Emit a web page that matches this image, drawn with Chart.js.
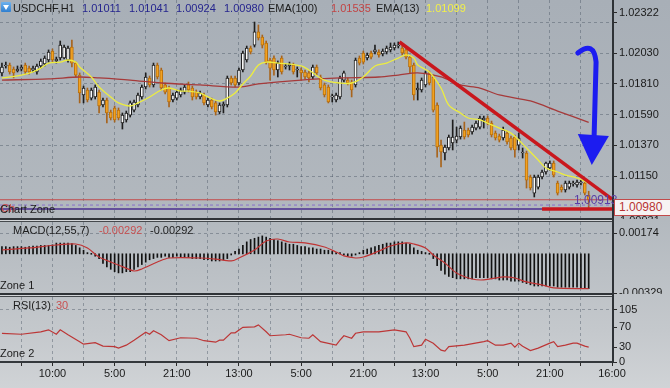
<!DOCTYPE html>
<html><head><meta charset="utf-8">
<script src="https://cdn.jsdelivr.net/npm/chart.js@4.4.1/dist/chart.umd.min.js"></script>
<style>
html,body{margin:0;padding:0;}
body{width:670px;height:388px;position:relative;overflow:hidden;background:linear-gradient(to bottom,#a8afb7 0%,#b2b8be 55%,#c4c8cc 85%,#d0d3d6 100%);font-family:"Liberation Sans",Arial,sans-serif;}
canvas{position:absolute;left:0;}
.t{position:absolute;font-size:11px;line-height:12px;white-space:nowrap;color:#1c1c1c;}
.ln{position:absolute;}
</style></head><body>
<canvas id="cMain" width="670" height="219" style="top:0px"></canvas>
<canvas id="cMacd" width="670" height="72" style="top:222px"></canvas>
<canvas id="cRsi" width="670" height="91" style="top:297px"></canvas>

<div class="ln" style="left:0;top:218px;width:614px;height:4px;background:linear-gradient(#2f3337 0 2px,#d2d5d8 2px 3px,#45494d 3px 4px)"></div>
<div class="ln" style="left:0;top:293px;width:614px;height:4px;background:linear-gradient(#2f3337 0 2px,#d2d5d8 2px 3px,#45494d 3px 4px)"></div>
<div class="ln" style="left:0;top:361px;width:614px;height:2px;background:#34383c"></div>
<div class="ln" style="left:612px;top:0;width:2px;height:363px;background:#2e3236"></div>

<div class="ln" style="left:1px;top:2px;width:10px;height:10px;background:linear-gradient(#6fb2ee,#2f7fd0);border-radius:1px"></div>
<div class="ln" style="left:3px;top:5px;width:0;height:0;border-left:3px solid transparent;border-right:3px solid transparent;border-top:5px solid #fff"></div>
<div class="t" style="left:13px;top:2px">USDCHF,H1</div>
<div class="t" style="left:82px;top:2px;color:#25258e">1.01011</div>
<div class="t" style="left:129px;top:2px;color:#25258e">1.01041</div>
<div class="t" style="left:176px;top:2px;color:#25258e">1.00924</div>
<div class="t" style="left:224px;top:2px;color:#25258e">1.00980</div>
<div class="t" style="left:268px;top:2px">EMA(100)</div>
<div class="t" style="left:331px;top:2px;color:#c24444">1.01535</div>
<div class="t" style="left:376px;top:2px">EMA(13)</div>
<div class="t" style="left:426px;top:2px;color:#f2f048">1.01099</div>

<div class="t" style="left:1px;top:202px;color:#c44">Ch</div>
<div class="t" style="left:0px;top:203px">Chart Zone</div>
<div class="t" style="left:574px;top:194px;font-size:12px;color:#5b3ea6">1.00913</div>
<div class="ln" style="left:614px;top:199px;width:56px;height:17px;background:#f7f3f3;border:1px solid #c24a4a;border-right:none;box-sizing:border-box"></div>
<div class="t" style="left:619px;top:201px;font-size:12px;line-height:13px;color:#b83434">1.00980</div>
<div class="ln" style="left:618px;top:216px;width:50px;height:3px;overflow:hidden"><div class="t" style="left:2px;top:-2px">1.00931</div></div>

<div class="t" style="left:13px;top:224px">MACD(12,55,7)</div>
<div class="t" style="left:99px;top:224px;color:#c85050">-0.00292</div>
<div class="t" style="left:150px;top:224px">-0.00292</div>
<div class="t" style="left:0px;top:279px">Zone 1</div>
<div class="t" style="left:13px;top:299px">RSI(13)</div>
<div class="t" style="left:56px;top:299px;color:#c85050">30</div>
<div class="t" style="left:0px;top:347px">Zone 2</div>

<script>
// ---------------- DATA ----------------
const opens = [1.01889,1.01939,1.01946,1.01917,1.01903,1.01917,1.01946,1.01924,1.01910,1.01896,
1.01939,1.01953,1.01982,1.02046,1.01975,1.01996,1.01996,1.01982,1.02075,1.01960,
1.01874,1.01731,1.01767,1.01709,1.01717,1.01752,1.01659,1.01695,1.01609,1.01638,
1.01623,1.01530,1.01552,1.01587,1.01623,1.01659,1.01717,1.01788,1.01853,1.01803,
1.01946,1.01910,1.01803,1.01781,1.01695,1.01709,1.01731,1.01752,1.01803,1.01781,
1.01752,1.01717,1.01731,1.01659,1.01695,1.01674,1.01609,1.01652,1.01659,1.01853,
1.01853,1.01817,1.01910,1.01982,1.02068,1.02089,1.02183,1.02147,1.02104,1.01982,
1.01996,1.01910,1.01996,1.01932,1.01939,1.01946,1.01910,1.01910,1.01896,1.01889,
1.01860,1.01932,1.01860,1.01803,1.01788,1.01717,1.01695,1.01717,1.01838,1.01838,
1.01824,1.01803,1.01996,1.02032,1.01996,1.02032,1.02039,1.02039,1.02025,1.02039,
1.02054,1.02068,1.02082,1.02068,1.02054,1.02003,1.01946,1.01767,1.01767,1.01803,
1.01889,1.01860,1.01659,1.01372,1.01315,1.01351,1.01387,1.01408,1.01430,1.01480,
1.01480,1.01466,1.01494,1.01501,1.01552,1.01566,1.01530,1.01458,1.01437,1.01423,
1.01458,1.01423,1.01430,1.01372,1.01315,1.01315,1.01143,1.01028,1.01071,1.01143,
1.01179,1.01208,1.01243,1.01100,1.01071,1.01050,1.01071,1.01093,1.01086,1.01100,
1.01100,1.01011];
const highs = [1.01960,1.01967,1.01960,1.01932,1.01939,1.01946,1.01960,1.01939,1.01939,1.01953,
1.01989,1.02011,1.02054,1.02061,1.02003,1.02118,1.02089,1.02082,1.02125,1.01967,
1.01889,1.01795,1.01781,1.01781,1.01803,1.01767,1.01709,1.01709,1.01623,1.01652,
1.01638,1.01602,1.01616,1.01688,1.01695,1.01745,1.01803,1.01889,1.01867,1.01960,
1.01960,1.01924,1.01817,1.01795,1.01745,1.01767,1.01781,1.01803,1.01824,1.01795,
1.01767,1.01759,1.01745,1.01709,1.01709,1.01688,1.01674,1.01681,1.01867,1.01867,
1.01867,1.01924,1.02046,1.02082,1.02082,1.02254,1.02233,1.02161,1.02118,1.01996,
1.02011,1.01975,1.02011,1.01953,1.01967,1.01960,1.01932,1.01924,1.01910,1.01903,
1.01946,1.01946,1.01874,1.01817,1.01803,1.01738,1.01745,1.01867,1.01903,1.01853,
1.01838,1.01996,1.02011,1.02046,1.02032,1.02046,1.02089,1.02054,1.02061,1.02082,
1.02104,1.02104,1.02111,1.02082,1.02068,1.02018,1.01960,1.01817,1.01853,1.01903,
1.01903,1.01874,1.01674,1.01408,1.01372,1.01444,1.01552,1.01501,1.01509,1.01537,
1.01494,1.01516,1.01544,1.01580,1.01580,1.01580,1.01544,1.01473,1.01451,1.01501,
1.01473,1.01437,1.01444,1.01458,1.01351,1.01329,1.01157,1.01157,1.01157,1.01193,
1.01250,1.01258,1.01258,1.01114,1.01086,1.01114,1.01114,1.01114,1.01121,1.01121,
1.01114,1.01041];
const lows = [1.01867,1.01924,1.01881,1.01853,1.01896,1.01903,1.01881,1.01881,1.01896,1.01881,
1.01924,1.01939,1.01967,1.01967,1.01960,1.01982,1.01989,1.01967,1.01932,1.01860,
1.01674,1.01674,1.01681,1.01695,1.01702,1.01602,1.01645,1.01530,1.01552,1.01537,
1.01552,1.01487,1.01537,1.01573,1.01609,1.01645,1.01702,1.01774,1.01788,1.01788,
1.01846,1.01767,1.01738,1.01645,1.01681,1.01695,1.01717,1.01738,1.01752,1.01695,
1.01702,1.01702,1.01659,1.01645,1.01631,1.01587,1.01595,1.01602,1.01645,1.01803,
1.01788,1.01803,1.01896,1.01967,1.02025,1.02075,1.02125,1.02068,1.01953,1.01838,
1.01874,1.01860,1.01881,1.01917,1.01910,1.01881,1.01860,1.01838,1.01846,1.01824,
1.01846,1.01874,1.01767,1.01717,1.01674,1.01681,1.01681,1.01702,1.01824,1.01803,
1.01717,1.01788,1.01946,1.01953,1.01982,1.01989,1.02025,1.02003,1.02011,1.02025,
1.02039,1.02054,1.02068,1.02018,1.01989,1.01889,1.01695,1.01695,1.01752,1.01788,
1.01803,1.01609,1.01286,1.01215,1.01265,1.01337,1.01337,1.01387,1.01415,1.01415,
1.01430,1.01451,1.01480,1.01487,1.01494,1.01516,1.01430,1.01408,1.01394,1.01408,
1.01379,1.01337,1.01286,1.01337,1.01279,1.01064,1.01050,1.01000,1.01057,1.01129,
1.01164,1.01193,1.01143,1.01014,1.01035,1.01035,1.01057,1.01078,1.01071,1.01086,
1.01014,1.00924];
const closes = [1.01932,1.01946,1.01896,1.01889,1.01917,1.01932,1.01896,1.01896,1.01924,1.01939,
1.01975,1.01996,1.02039,1.01982,1.01989,1.02089,1.02075,1.02068,1.01960,1.01874,
1.01745,1.01781,1.01695,1.01767,1.01788,1.01652,1.01695,1.01602,1.01566,1.01552,
1.01566,1.01587,1.01602,1.01674,1.01681,1.01731,1.01788,1.01860,1.01803,1.01946,
1.01860,1.01781,1.01752,1.01681,1.01731,1.01752,1.01767,1.01788,1.01767,1.01717,
1.01717,1.01745,1.01674,1.01695,1.01645,1.01609,1.01659,1.01666,1.01853,1.01817,
1.01803,1.01910,1.02032,1.02068,1.02039,1.02183,1.02140,1.02089,1.01967,1.01924,
1.01910,1.01960,1.01896,1.01939,1.01953,1.01896,1.01917,1.01889,1.01860,1.01853,
1.01932,1.01889,1.01781,1.01731,1.01681,1.01724,1.01731,1.01853,1.01889,1.01817,
1.01767,1.01982,1.01960,1.01967,1.02018,1.02003,1.02054,1.02018,1.02046,1.02068,
1.02075,1.02089,1.02089,1.02032,1.02003,1.01932,1.01731,1.01781,1.01838,1.01889,
1.01817,1.01623,1.01358,1.01322,1.01358,1.01430,1.01430,1.01437,1.01494,1.01430,
1.01444,1.01501,1.01530,1.01566,1.01566,1.01530,1.01444,1.01423,1.01408,1.01480,
1.01394,1.01351,1.01337,1.01423,1.01322,1.01121,1.01064,1.01143,1.01143,1.01179,
1.01243,1.01243,1.01157,1.01028,1.01050,1.01100,1.01100,1.01100,1.01107,1.01107,
1.01028,1.00980];

// [candle index, value]
const ema13 = [[0,1.01853],[5,1.01874],[8,1.01896],[10,1.01924],[12,1.01960],[15,1.01967],[17,1.01982],[19,1.01967],[20,1.01932],[23,1.01860],[25,1.01788],[28,1.01717],[30,1.01674],[33,1.01652],[35,1.01674],[38,1.01717],[41,1.01767],[43,1.01781],[46,1.01759],[48,1.01759],[51,1.01745],[53,1.01717],[56,1.01688],[58,1.01709],[60,1.01745],[62,1.01810],[64,1.01867],[66,1.01946],[68,1.01967],[71,1.01960],[77,1.01939],[79,1.01910],[83,1.01838],[87,1.01817],[90,1.01817],[93,1.01860],[96,1.01939],[99,1.01960],[102,1.01996],[104,1.02018],[106,1.01996],[107,1.01946],[110,1.01896],[113,1.01781],[115,1.01659],[118,1.01602],[120,1.01566],[123,1.01552],[125,1.01530],[128,1.01494],[131,1.01458],[133,1.01408],[135,1.01351],[138,1.01265],[140,1.01208],[143,1.01179],[145,1.01157],[148,1.01136],[151,1.01099]];
const ema100 = [[0,1.01838],[12,1.01846],[20,1.01860],[25,1.01853],[33,1.01838],[41,1.01817],[51,1.01803],[61,1.01788],[66,1.01810],[77,1.01838],[87,1.01853],[97,1.01860],[102,1.01874],[107,1.01889],[113,1.01860],[118,1.01803],[123,1.01781],[128,1.01731],[136,1.01688],[143,1.01616],[151,1.01535]];

const macdHist = [0.0006,0.0006,0.00055,0.0006,0.0006,0.0006,0.00055,0.0006,0.00065,0.00065,
0.0007,0.0007,0.0007,0.00075,0.0009,0.0009,0.0009,0.0009,0.00085,0.0007,
0.0005,0.0003,0.0001,0.0,-0.0002,-0.0004,-0.0008,-0.0011,-0.0013,-0.0015,
-0.0016,-0.0016,-0.0015,-0.0015,-0.0013,-0.0011,-0.0009,-0.0007,-0.0005,-0.0004,
-0.0003,-0.0003,-0.0002,-0.0003,-0.0003,-0.0002,-0.0003,-0.0003,-0.0003,-0.0004,
-0.0004,-0.0004,-0.0005,-0.0005,-0.0006,-0.0006,-0.0006,-0.0005,-0.0004,-0.0001,
0.0002,0.0004,0.0007,0.0010,0.0012,0.0013,0.0014,0.0015,0.0014,0.0013,
0.0012,0.0011,0.0010,0.0009,0.0008,0.0008,0.0007,0.0006,0.0006,0.0005,
0.0005,0.0004,0.0004,0.0003,0.0003,0.0002,0.0001,0.0001,-0.0001,-0.0002,
-0.0002,-0.0001,0.0001,0.0003,0.0004,0.0005,0.0006,0.0007,0.0008,0.0009,
0.0009,0.0010,0.0010,0.0010,0.0009,0.0008,0.0005,0.0003,0.0002,0.0001,
0.0,-0.0004,-0.0010,-0.0014,-0.0017,-0.0019,-0.0020,-0.0021,-0.0021,-0.0021,
-0.0021,-0.0021,-0.0020,-0.0020,-0.0020,-0.0020,-0.0021,-0.0021,-0.0022,-0.0022,
-0.0022,-0.0023,-0.0023,-0.0023,-0.0024,-0.0025,-0.0026,-0.0027,-0.0027,-0.0027,
-0.0027,-0.0027,-0.0027,-0.0028,-0.0028,-0.0028,-0.0028,-0.0028,-0.0028,-0.0029,
-0.0029,-0.00292];
const macdSignal = [[0,0.00032],[7,0.00049],[14,0.00074],[19,0.00082],[22,0.00049],[25,-0.00027],[30,-0.00094],[34,-0.00144],[36,-0.00127],[40,-0.00069],[43,-0.00035],[51,-0.00035],[55,-0.00044],[59,-0.00060],[61,-0.00035],[65,0.00032],[68,0.00107],[71,0.00124],[74,0.00099],[78,0.00091],[83,0.00057],[86,0.00015],[88,-0.00018],[91,-0.00035],[93,-0.00027],[97,0.00023],[100,0.00065],[104,0.00091],[106,0.00082],[109,0.00049],[111,-0.00010],[114,-0.00077],[117,-0.00161],[121,-0.00211],[124,-0.00219],[129,-0.00194],[132,-0.00203],[135,-0.00236],[139,-0.00261],[142,-0.00286],[151,-0.00292]];

const rsi = [[0,58],[5,56],[10,61],[12,65],[14,56],[15,65],[17,55],[20,41],[21,36],[24,39],[26,32],[29,31],[30,28],[32,34],[34,44],[37,60],[38,56],[39,63],[41,55],[43,43],[46,49],[50,48],[52,43],[55,40],[56,44],[57,44],[59,59],[60,59],[62,70],[65,71],[66,75],[68,61],[69,53],[73,55],[74,56],[77,49],[79,48],[80,55],[82,41],[86,34],[87,44],[88,53],[90,48],[91,58],[93,61],[97,61],[101,65],[104,61],[105,48],[106,31],[108,34],[109,46],[111,38],[113,24],[114,22],[115,31],[119,34],[124,41],[125,43],[127,34],[129,34],[131,38],[132,30],[133,38],[134,32],[136,23],[138,28],[141,38],[142,41],[143,31],[145,34],[147,38],[148,38],[150,32],[151,30]];

// annotations (index, price)
const trendLine = [[102.3,1.02111],[157,1.00985]];
const zoneSegment = [[139,1.00913],[157,1.00913]];
const lastPrice = 1.00980;
const zoneLevel = 1.00913;
const zoneDash = 1.00942;
const arrowHook = [[148.2,1.02032],[152.35,1.02125],[152.9,1.01967]];
const arrowShaftEnd = [152.4,1.01437];
const arrowHead = [[148.2,1.01451],[156.2,1.01437],[151.8,1.01229]];

// ticks
const timeTicks = [5,13,21,29,37,45,53,61,69,77,85,93,101,109,117,125,133,141,149,157];
const timeLabels = ['','10:00','','5:00','','21:00','','13:00','','5:00','','21:00','','13:00','','5:00','','21:00','','16:00'];
const priceTicks = [1.02322,1.02250,1.02030,1.01810,1.01590,1.01370,1.01150];
const priceLabeled = [1.02322,1.02030,1.01810,1.01590,1.01370,1.01150];
const macdTicks = [0.00174,-0.00329];
const rsiTicks = [105,70,30,0];

// ---------------- CHARTS ----------------
const FONT = '"Liberation Sans", Arial, sans-serif';
const GRID = 'rgba(70,80,95,0.42)';
Chart.defaults.font.family = FONT;

function xScale(showLabels){
  return {
    type:'linear', min:-0.5, max:157, bounds:'data', offset:false,
    afterBuildTicks: s => { s.ticks = timeTicks.map(v=>({value:v})); },
    ticks:{ display:showLabels, autoSkip:false, maxRotation:0, minRotation:0, padding:1, color:'#1a1a1a', font:{size:11}, callback:(v,i)=>timeLabels[i] },
    grid:{ color:GRID, lineWidth:1, drawTicks:showLabels, tickLength:4, tickColor:'#2a2a2a', tickBorderDash:[], offset:false },
    border:{ display:false, dash:[3,3] },
    afterFit: s => { s.height = showLabels ? 26 : 0; s.paddingLeft = 0; s.paddingRight = 0; }
  };
}
function yScale(min,max,ticks,fmt,gridColor){
  return {
    type:'linear', position:'right', min, max, bounds:'data',
    afterBuildTicks: s => { s.ticks = ticks.map(v=>({value:v})); },
    ticks:{ autoSkip:false, padding:2, color:'#1a1a1a', font:{size:11}, callback:fmt },
    grid:{ color:gridColor, lineWidth:1, drawTicks:true, tickLength:5, tickColor:'#2a2a2a', tickBorderDash:[] },
    border:{ display:false, dash:[3,3] },
    afterFit: s => { s.width = 58; s.paddingTop = 0; s.paddingBottom = 0; }
  };
}
const common = { responsive:false, maintainAspectRatio:false, animation:false, events:[], devicePixelRatio:1,
  layout:{ padding:0 }, plugins:{ legend:{display:false}, tooltip:{enabled:false} } };

const idx = opens.map((_, i) => i);
const up = idx.map(i => closes[i] >= opens[i]);
const pts = arr => arr.map(([x,y]) => ({x,y}));
const hline = v => [{x:-0.5,y:v},{x:157,y:v}];

const arrowPlugin = {
  id:'arrow',
  afterDatasetsDraw(chart){
    const {ctx, scales:{x,y}} = chart;
    const P = ([i,p]) => [x.getPixelForValue(i), y.getPixelForValue(p)];
    ctx.save();
    ctx.strokeStyle = '#1c1cf0'; ctx.fillStyle = '#1c1cf0';
    ctx.lineWidth = 5; ctx.lineCap = 'round'; ctx.lineJoin = 'round';
    const a = P(arrowHook[0]), c = P(arrowHook[1]), b = P(arrowHook[2]), e = P(arrowShaftEnd);
    ctx.beginPath(); ctx.moveTo(a[0],a[1]); ctx.quadraticCurveTo(c[0],c[1],b[0],b[1]); ctx.lineTo(e[0],e[1]); ctx.stroke();
    const h = arrowHead.map(P);
    ctx.beginPath(); ctx.moveTo(h[0][0],h[0][1]); ctx.lineTo(h[1][0],h[1][1]); ctx.lineTo(h[2][0],h[2][1]); ctx.closePath(); ctx.fill();
    ctx.restore();
  }
};

new Chart(document.getElementById('cMain'), {
  type:'bar',
  data:{ datasets:[
    { type:'line', data:pts(trendLine), borderColor:'#c9171d', borderWidth:3.5, pointRadius:0, order:0 },
    { type:'line', data:pts(zoneSegment), borderColor:'#c9171d', borderWidth:3.5, pointRadius:0, order:0 },
    { type:'line', data:hline(lastPrice), borderColor:'#c44848', borderWidth:1, pointRadius:0, order:1 },
    { type:'line', data:hline(zoneDash), borderColor:'rgba(125,95,205,0.8)', borderWidth:1, borderDash:[3,3], pointRadius:0, order:1 },
    { type:'line', data:hline(zoneLevel), borderColor:'#4b2f8f', borderWidth:1.5, pointRadius:0, order:1 },
    { type:'line', data:pts(ema13), borderColor:'#eded3f', borderWidth:1.3, pointRadius:0, tension:0.35, order:2 },
    { type:'line', data:pts(ema100), borderColor:'#a63a3a', borderWidth:1.3, pointRadius:0, tension:0.3, order:2 },
    { type:'bar', data:idx.map(i=>({x:i,y:[opens[i],closes[i]]})), backgroundColor:up.map(u=>u?'#fbfbfb':'#f2a222'),
      borderColor:up.map(u=>u?'#1e1e1e':'#b8700e'), borderWidth:1, borderSkipped:false, barThickness:3, grouped:false, minBarLength:1, order:3 },
    { type:'bar', data:idx.map(i=>({x:i,y:[lows[i],highs[i]]})), backgroundColor:up.map(u=>u?'#1e1e1e':'#a8641c'),
      barThickness:1, grouped:false, order:4 }
  ]},
  options:{ ...common,
    scales:{
      x:xScale(false),
      y:yScale(1.00842,1.02412,priceTicks, v => priceLabeled.includes(v) ? v.toFixed(5) : '',
        c => (c.tick && c.tick.value === 1.02322) ? 'rgba(0,0,0,0)' : GRID)
    }
  },
  plugins:[arrowPlugin]
});

new Chart(document.getElementById('cMacd'), {
  type:'bar',
  data:{ datasets:[
    { type:'line', data:pts(macdSignal), borderColor:'#c03434', borderWidth:1.2, pointRadius:0, tension:0.3, order:0 },
    { type:'bar', data:idx.map(i=>({x:i,y:macdHist[i]})), backgroundColor:'#111', barThickness:1, grouped:false, minBarLength:1, order:1 }
  ]},
  options:{ ...common,
    scales:{ x:xScale(false), y:yScale(-0.00337,0.002666,macdTicks, v => v.toFixed(5), GRID) }
  }
});

new Chart(document.getElementById('cRsi'), {
  type:'line',
  data:{ datasets:[
    { data:pts(rsi), borderColor:'#bc3636', borderWidth:1.2, pointRadius:0, tension:0 }
  ]},
  options:{ ...common,
    scales:{ x:xScale(true), y:yScale(0,131.25,rsiTicks, v => String(v), c => (c.tick && c.tick.value === 105) ? GRID : 'rgba(0,0,0,0)') }
  }
});
</script>
</body></html>
